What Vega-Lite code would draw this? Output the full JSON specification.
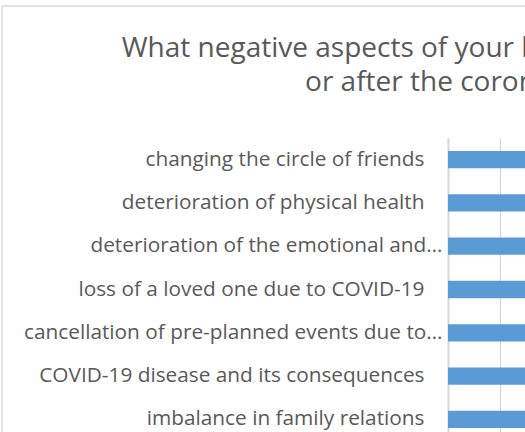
{
  "$schema": "https://vega.github.io/schema/vega-lite/v6.json",
  "width": 624,
  "height": 303,
  "autosize": {"type": "none"},
  "padding": {"left": 448, "top": 138, "right": 0, "bottom": 0},
  "background": "white",
  "title": {
    "text": ["What negative aspects of your life have you experienced during", "or after the coronavirus pandemic?"],
    "font": "Open Sans",
    "fontSize": 28,
    "fontWeight": "normal",
    "color": "#595959",
    "lineHeight": 34,
    "anchor": "middle",
    "frame": "bounds",
    "offset": -92,
    "dx": -4
  },
  "datasets": {
    "answers": [
      {"aspect": "changing the circle of friends", "value": 22.5},
      {"aspect": "deterioration of physical health", "value": 25.1},
      {"aspect": "deterioration of the emotional and…", "value": 34.8},
      {"aspect": "loss of a loved one due to COVID-19", "value": 13.9},
      {"aspect": "cancellation of pre-planned events due to…", "value": 41.2},
      {"aspect": "COVID-19 disease and its consequences", "value": 29.6},
      {"aspect": "imbalance in family relations", "value": 12.4}
    ],
    "chartArea": [
      {"left": -42.885, "right": 60.19, "top": 1.4356, "bottom": -1}
    ]
  },
  "layer": [
    {
      "data": {"name": "chartArea"},
      "mark": {"type": "rect", "fillOpacity": 0, "stroke": "#d9d9d9", "strokeWidth": 1.3},
      "encoding": {
        "x": {"field": "left", "type": "quantitative"},
        "x2": {"field": "right"},
        "y": {"field": "top", "type": "quantitative", "scale": {"domain": [0, 1], "nice": false, "zero": false}, "axis": null},
        "y2": {"field": "bottom"}
      }
    },
    {
      "data": {"name": "answers"},
      "mark": {"type": "bar", "color": "#5b9bd5"},
      "encoding": {
        "y": {
          "field": "aspect",
          "type": "nominal",
          "sort": null,
          "scale": {"paddingInner": 0.6, "paddingOuter": 0.3},
          "axis": {
            "title": null,
            "ticks": false,
            "labelPadding": {"condition": {"test": "indexof(datum.value, '…') >= 0", "value": 6}, "value": 24},
            "labelLimit": 0,
            "labelFont": "Open Sans",
            "labelFontSize": 20.8,
            "labelColor": "#595959",
            "domainColor": "#d9d9d9",
            "domainWidth": 2,
            "grid": false
          }
        },
        "x": {
          "field": "value",
          "type": "quantitative",
          "scale": {"domain": [0, 60], "nice": false, "zero": false},
          "axis": {
            "values": [0, 5, 10, 15, 20, 25, 30, 35, 40, 45, 50, 55, 60],
            "grid": true,
            "gridColor": "#d9d9d9",
            "gridWidth": 1.3,
            "title": null,
            "domain": false,
            "ticks": false,
            "labels": false
          }
        }
      }
    }
  ],
  "resolve": {"scale": {"y": "independent"}},
  "config": {"view": {"stroke": null}}
}
